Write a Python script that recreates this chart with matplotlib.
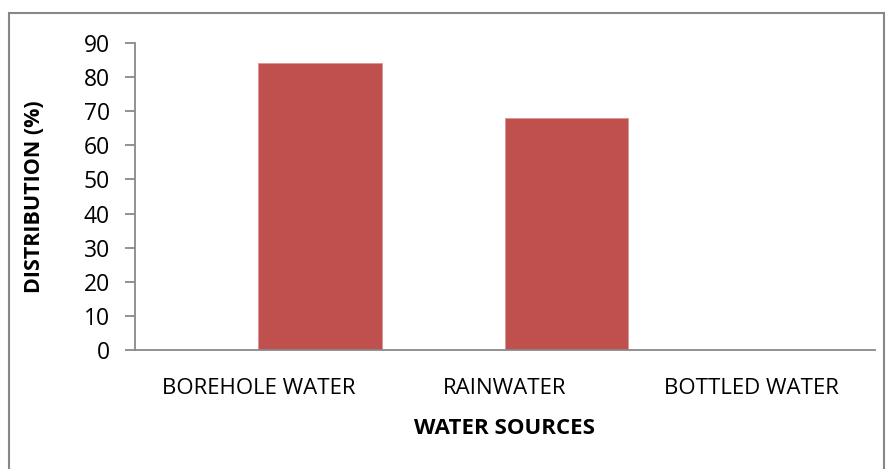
import matplotlib.pyplot as plt
from matplotlib.patches import Rectangle

categories = ["BOREHOLE WATER", "RAINWATER", "BOTTLED WATER"]
distribution = [84, 68, 0]

BAR_COLOR = "#C0504D"
AXIS_GRAY = "#898989"

plt.rcParams["font.family"] = ["Open Sans", "DejaVu Sans"]

fig = plt.figure(figsize=(8.93, 4.69), dpi=100)
ax = fig.add_axes([135 / 893, 1 - 350 / 469, 740 / 893, 307 / 469])

# Excel-style clustered layout: bars sit just right of the category centre
x = list(range(len(categories)))
ax.bar(x, distribution, width=0.5, align="edge", color=BAR_COLOR,
       edgecolor="#D99694", linewidth=0.6)

ax.set_xlim(-0.5, len(categories) - 0.5)
ax.set_ylim(0, 90)
ax.set_yticks(range(0, 91, 10))
ax.set_xticks(x)
ax.set_xticklabels(categories)

for s in ["top", "right"]:
    ax.spines[s].set_visible(False)
for s in ["left", "bottom"]:
    ax.spines[s].set_color(AXIS_GRAY)
    ax.spines[s].set_linewidth(1.3)

ax.tick_params(axis="y", length=7, width=1.3, color=AXIS_GRAY, labelsize=16.5, pad=11)
ax.tick_params(axis="x", length=0, labelsize=16, pad=20)

ax.set_ylabel("DISTRIBUTION (%)", fontsize=15.5, fontweight="bold", labelpad=28)
ax.set_xlabel("WATER SOURCES", fontsize=16, fontweight="bold", labelpad=14)

# outer chart border
fig.patches.append(Rectangle((9 / 893, -0.05), 875 / 893, 1 - 13 / 469 + 0.05,
                             transform=fig.transFigure, fill=False,
                             edgecolor="#878787", linewidth=1.5))

fig.savefig("out.png", dpi=100)
plt.close(fig)
